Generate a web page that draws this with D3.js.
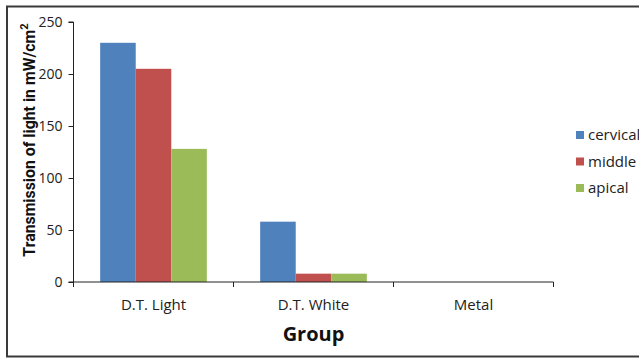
<!DOCTYPE html>
<html><head><meta charset="utf-8">
<script src="https://cdn.jsdelivr.net/npm/d3@7"></script>
<style>body{margin:0;background:#fff}svg{display:block}</style>
</head><body>
<script>
const categories = ["D.T. Light", "D.T. White", "Metal"];
const seriesNames = ["cervical", "middle", "apical"];
const cervical = [230, 58, 0];
const middle = [205, 8, 0];
const apical = [128, 8, 0];
const yTicks = [0, 50, 100, 150, 200, 250];
const colors = ["#4F81BD", "#C0504D", "#9BBB59"];
const values = [cervical, middle, apical];

(function () {
const W = 639, H = 358;
const svg = d3.select("body").append("svg").attr("width", W).attr("height", H);
svg.append("rect").attr("x", 7).attr("y", 6.5).attr("width", 640).attr("height", 350)
  .attr("fill", "#fff").attr("stroke", "#3a3a3a").attr("stroke-width", 2);

const font = "'Open Sans', sans-serif";
const pLeft = 73.5, pRight = 553.5, pTop = 22, pBottom = 282;
const x = d3.scaleBand().domain(categories).range([pLeft, pRight]).paddingInner(0).paddingOuter(0);
const y = d3.scaleLinear().domain([0, 250]).range([pBottom, pTop]);
const bw = x.bandwidth();
const barW = bw / (3 + 1.5);
const sub = d3.scaleBand().domain(seriesNames).range([0.75 * barW, 0.75 * barW + 3 * barW]);

const g = svg.append("g");
seriesNames.forEach((s, si) => {
  g.selectAll(".b" + si).data(categories).enter().append("rect")
    .attr("x", d => x(d) + sub(s))
    .attr("y", (d, i) => y(values[si][i]))
    .attr("width", sub.bandwidth())
    .attr("height", (d, i) => y(0) - y(values[si][i]))
    .attr("fill", colors[si]);
});

// y axis
const ya = svg.append("g").attr("transform", `translate(${pLeft},0)`)
  .call(d3.axisLeft(y).tickValues(yTicks).tickSize(5).tickPadding(6));
ya.selectAll("text").attr("font-family", font).attr("font-size", 14).attr("fill", "#222");
ya.selectAll("line,path").attr("stroke", "#222");
ya.select(".domain").attr("d", `M-5,${pTop}H0V${pBottom}H-5`);

// x axis
const xa = svg.append("g").attr("transform", `translate(0,${pBottom})`)
  .call(d3.axisBottom(x).tickSize(0).tickPadding(17));
xa.select(".domain").attr("d", `M${pLeft},0H${pRight}`).attr("stroke", "#222");
xa.selectAll("text").attr("font-family", font).attr("font-size", 15).attr("fill", "#222");
[pLeft, ...categories.map(c => x(c) + bw)].forEach(v => {
  svg.append("line").attr("x1", v).attr("x2", v).attr("y1", pBottom).attr("y2", pBottom + 5).attr("stroke", "#222");
});

svg.append("text").attr("x", (pLeft + pRight) / 2).attr("y", 341).attr("text-anchor", "middle")
  .attr("font-family", font).attr("font-weight", "bold").attr("font-size", 20).attr("fill", "#111").text("Group");

const yt = svg.append("text").attr("transform", "translate(35,140) rotate(-90)").attr("text-anchor", "middle")
  .attr("font-family", "Roboto, 'Open Sans', sans-serif").attr("font-weight", "bold").attr("font-size", 17).attr("fill", "#111");
yt.append("tspan").attr("textLength", 227).attr("lengthAdjust", "spacingAndGlyphs").text("Transmission of light in mW/cm");
yt.append("tspan").attr("dy", -7).attr("font-size", 11).text("2");

const lg = svg.append("g");
seriesNames.forEach((s, i) => {
  const yy = 135 + i * 26.5;
  lg.append("rect").attr("x", 576).attr("y", yy - 4).attr("width", 8).attr("height", 8).attr("fill", colors[i]);
  lg.append("text").attr("x", 588).attr("y", yy + 5).attr("font-family", font).attr("font-size", 15)
    .attr("fill", "#222").text(s);
});
})();
</script>
</body></html>
